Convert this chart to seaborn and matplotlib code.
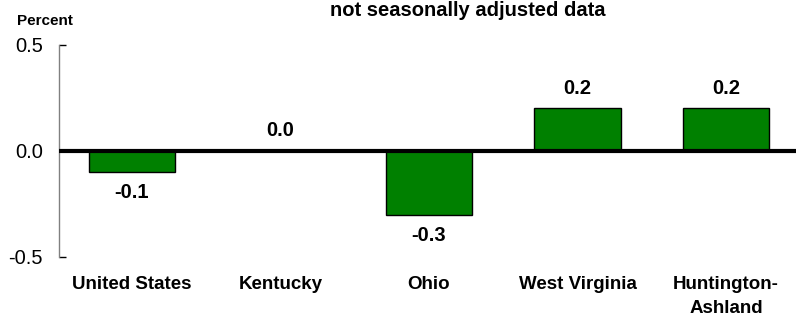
import matplotlib
matplotlib.use("Agg")
import matplotlib.pyplot as plt
import seaborn as sns
import pandas as pd

# ── Data ──
areas = ["United States", "Kentucky", "Ohio", "West Virginia", "Huntington-\nAshland"]
change = [-0.1, 0.0, -0.3, 0.2, 0.2]

df = pd.DataFrame({"area": areas, "change": change})

sns.set_style("white")
plt.rcParams["font.family"] = ["Liberation Sans", "DejaVu Sans"]
plt.rcParams["text.color"] = "black"
plt.rcParams["xtick.color"] = "black"
plt.rcParams["ytick.color"] = "black"
plt.rcParams["ytick.left"] = True

fig = plt.figure(figsize=(7.96, 3.16), dpi=100)
ax = fig.add_axes([0.0741, 0.187, 0.9259, 0.671])

sns.barplot(data=df, x="area", y="change", color="#008000", width=0.58,
            edgecolor="black", linewidth=1, saturation=1, ax=ax)

ax.set_xlim(-0.49, 4.47)
ax.set_ylim(-0.5, 0.5)
ax.set_yticks([-0.5, 0.0, 0.5])
ax.set_yticklabels(["-0.5", "0.0", "0.5"], fontsize=14.5)
ax.set_xlabel("")
ax.set_ylabel("")
ax.tick_params(axis="y", direction="in", length=5, width=1, color="black",
               labelcolor="black", pad=11.5, left=True)
ax.tick_params(axis="x", length=0, pad=14, labelcolor="black")
for lbl in ax.get_xticklabels():
    lbl.set_fontweight("bold")
    lbl.set_fontsize(13.5)
    lbl.set_linespacing(1.5)

for s in ["top", "right", "bottom"]:
    ax.spines[s].set_visible(False)
ax.spines["left"].set_color("#808080")
ax.spines["left"].set_linewidth(1)

ax.axhline(0, color="black", linewidth=3, zorder=5)

# ── Value labels ──
for i, v in enumerate(change):
    off = -15 if v < 0 else 14.5
    ax.annotate(f"{v:.1f}", (i, v), xytext=(0, off), textcoords="offset points",
                ha="center", va="center", fontsize=14.5, fontweight="bold", color="black")

fig.text(0.588, 0.968, "not seasonally adjusted data", ha="center", va="center",
         fontsize=14.5, fontweight="bold", color="black")
fig.text(0.021, 0.935, "Percent", ha="left", va="center", fontsize=11,
         fontweight="bold", color="black")

fig.savefig("out.png", dpi=100)
